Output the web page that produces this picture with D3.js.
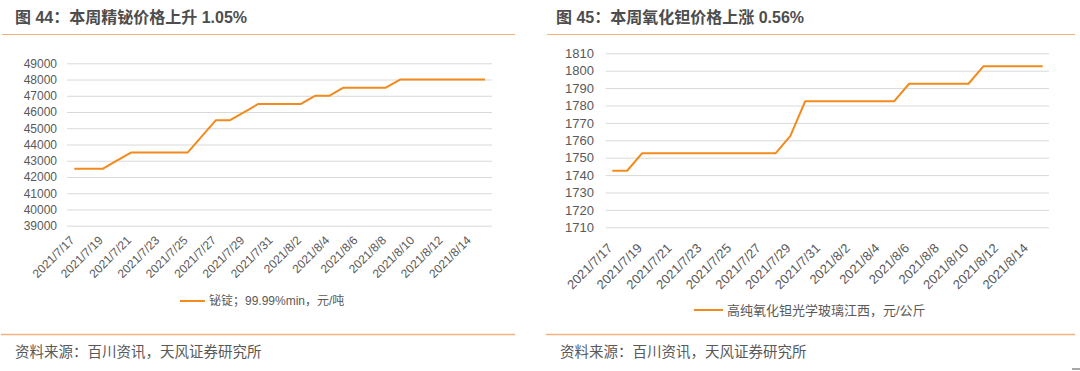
<!DOCTYPE html>
<html>
<head>
<meta charset="utf-8">
<script src="https://cdn.jsdelivr.net/npm/d3@7"></script>
<style>
  body { margin: 0; background: #fff; }
  svg { display: block; font-family: "Liberation Sans", Arial, "Noto Sans CJK SC", sans-serif; }
  .grid line { stroke: #d9d9d9; stroke-width: 1; }
  .tick text { fill: #595959; }
</style>
</head>
<body>
<svg id="chart" width="1080" height="371"></svg>
<script>
// Data: daily prices 2021/7/17 - 2021/8/15
const dates = [
  "2021/7/17","2021/7/18","2021/7/19","2021/7/20","2021/7/21","2021/7/22","2021/7/23","2021/7/24",
  "2021/7/25","2021/7/26","2021/7/27","2021/7/28","2021/7/29","2021/7/30","2021/7/31","2021/8/1",
  "2021/8/2","2021/8/3","2021/8/4","2021/8/5","2021/8/6","2021/8/7","2021/8/8","2021/8/9",
  "2021/8/10","2021/8/11","2021/8/12","2021/8/13","2021/8/14","2021/8/15"
];
const bismuthPrices = [
  42500, 42500, 42500, 43000, 43500, 43500, 43500, 43500,
  43500, 44500, 45500, 45500, 46000, 46500, 46500, 46500,
  46500, 47000, 47000, 47500, 47500, 47500, 47500, 48000,
  48000, 48000, 48000, 48000, 48000, 48000
];
const tantalumPrices = [
  1742.5, 1742.5, 1752.5, 1752.5, 1752.5, 1752.5, 1752.5, 1752.5,
  1752.5, 1752.5, 1752.5, 1752.5, 1762.5, 1782.5, 1782.5, 1782.5,
  1782.5, 1782.5, 1782.5, 1782.5, 1792.5, 1792.5, 1792.5, 1792.5,
  1792.5, 1802.5, 1802.5, 1802.5, 1802.5, 1802.5
];
const xTickLabels = [
  "2021/7/17","2021/7/19","2021/7/21","2021/7/23","2021/7/25","2021/7/27","2021/7/29","2021/7/31",
  "2021/8/2","2021/8/4","2021/8/6","2021/8/8","2021/8/10","2021/8/12","2021/8/14"
];
const bismuthTicks = d3.range(39000, 49001, 1000);
const tantalumTicks = d3.range(1710, 1811, 10);

const titles = ["图 44：本周精铋价格上升 1.05%", "图 45：本周氧化钽价格上涨 0.56%"];
const legends = ["铋锭；99.99%min，元/吨", "高纯氧化钽光学玻璃江西，元/公斤"];
const source = "资料来源：百川资讯，天风证券研究所";

const svg = d3.select("#chart");
const orange = "#f28a1c";
const rule = "#f5b27c";

const panels = [
  {
    values: bismuthPrices, ticks: bismuthTicks, domain: [39000, 49000],
    title: titles[0], legend: legends[0],
    left: 0, right: 515, titleX: 15, labelRight: 57,
    gridX: [67, 492], dataX: [74.3, 485], yRange: [225.7, 63.3],
    font: 12, labelDy: 241, legendX: [180, 205], legendY: 301
  },
  {
    values: tantalumPrices, ticks: tantalumTicks, domain: [1710, 1810],
    title: titles[1], legend: legends[1],
    left: 545, right: 1075, titleX: 556, labelRight: 594,
    gridX: [605.7, 1049], dataX: [612.3, 1042.7], yRange: [227.3, 53.3],
    font: 13, labelDy: 249, legendX: [694, 723], legendY: 310
  }
];

panels.forEach(drawPanel);

// small mark in the bottom-right corner
svg.append("rect")
   .attr("x", 1072).attr("y", 368).attr("width", 8).attr("height", 2)
   .attr("fill", "#a6a6a6");

function drawPanel(p) {
  // Title and rules
  svg.append("text")
     .attr("x", p.titleX).attr("y", 23)
     .attr("font-size", 16).attr("font-weight", "bold")
     .attr("fill", "#4d4d4d")
     .text(p.title);
  svg.append("line")
     .attr("x1", p.left + 2).attr("x2", p.right)
     .attr("y1", 34.5).attr("y2", 34.5)
     .attr("stroke", rule).attr("stroke-width", 1.2);
  svg.append("line")
     .attr("x1", p.left + 1).attr("x2", p.right)
     .attr("y1", 334.5).attr("y2", 334.5)
     .attr("stroke", rule).attr("stroke-width", 1.5);
  svg.append("text")
     .attr("x", p.left + 15).attr("y", 357)
     .attr("font-size", 14.5).attr("fill", "#595959")
     .attr("font-family", "'Noto Sans CJK SC', sans-serif")
     .text(source);

  const x = d3.scalePoint().domain(dates).range(p.dataX);
  const y = d3.scaleLinear().domain(p.domain).range(p.yRange);

  // Y axis with gridlines
  const yAxis = d3.axisLeft(y)
    .tickValues(p.ticks)
    .tickSize(-(p.gridX[1] - p.gridX[0]))
    .tickPadding(p.gridX[0] - p.labelRight)
    .tickFormat(d3.format("d"));
  const gy = svg.append("g")
     .attr("class", "grid")
     .attr("transform", `translate(${p.gridX[0]},0)`)
     .call(yAxis);
  gy.select(".domain").remove();
  gy.selectAll("text").attr("font-size", p.font);

  // X labels, rotated
  svg.append("g")
     .selectAll("text")
     .data(xTickLabels)
     .join("text")
     .attr("transform", d => `translate(${x(d) + 1},${p.labelDy}) rotate(-45)`)
     .attr("text-anchor", "end")
     .attr("font-size", p.font)
     .attr("fill", "#595959")
     .text(d => d);

  // Line
  const line = d3.line()
    .x((d, i) => x(dates[i]))
    .y(d => y(d));
  svg.append("path")
     .datum(p.values)
     .attr("fill", "none")
     .attr("stroke", orange)
     .attr("stroke-width", 2)
     .attr("stroke-linejoin", "round")
     .attr("d", line);

  // Legend
  svg.append("line")
     .attr("x1", p.legendX[0]).attr("x2", p.legendX[1])
     .attr("y1", p.legendY).attr("y2", p.legendY)
     .attr("stroke", orange).attr("stroke-width", 2);
  svg.append("text")
     .attr("x", p.legendX[1] + 4).attr("y", p.legendY)
     .attr("dy", "0.35em")
     .attr("font-size", p.font).attr("fill", "#595959")
     .text(p.legend);
}
</script>
</body>
</html>
